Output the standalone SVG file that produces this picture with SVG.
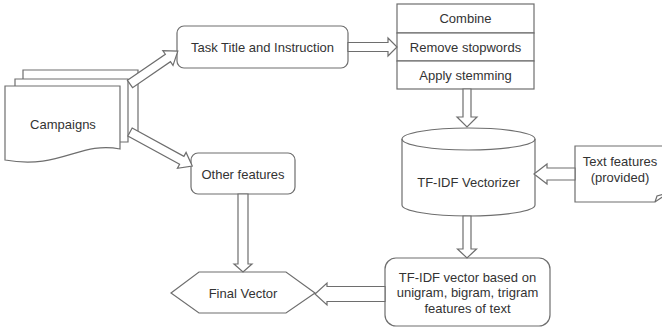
<svg xmlns="http://www.w3.org/2000/svg" width="662" height="332" viewBox="0 0 662 332">
  <style>
    .shape { fill: #ffffff; stroke: #6e6e6e; stroke-width: 1.2; }
    .line { fill: none; stroke: #6e6e6e; stroke-width: 1.2; }
    .label { font-family: "Liberation Sans", Arial, sans-serif; font-size: 13px; fill: #333333; text-anchor: middle; }
    .flex { fill: #ffffff; stroke: #6e6e6e; stroke-width: 1.2; stroke-linejoin: miter; }
  </style>
  <rect width="662" height="332" fill="#ffffff"/>

  <!-- Campaigns: stacked documents -->
  <g id="campaigns">
    <path class="shape" d="M23,79 V70 H138 V135 H128"/>
    <path class="shape" d="M15,86 V79 H128 V142 H120"/>
    <path class="shape" d="M5,86 H120 V149 C80,141 60,170 5,160 Z"/>
    <text class="label" x="63" y="128.5">Campaigns</text>
  </g>

  <!-- Task title box -->
  <g id="task-title">
    <rect class="shape" x="177" y="26" width="171" height="42" rx="7"/>
    <text class="label" x="262.5" y="51.5">Task Title and Instruction</text>
  </g>

  <!-- Text preprocessing stack -->
  <g id="preprocess">
    <rect class="shape" x="397" y="4" width="137" height="29"/>
    <rect class="shape" x="397" y="33" width="137" height="28"/>
    <rect class="shape" x="397" y="61" width="137" height="28"/>
    <text class="label" x="465.5" y="23">Combine</text>
    <text class="label" x="465.5" y="51.5">Remove stopwords</text>
    <text class="label" x="465.5" y="80">Apply stemming</text>
  </g>

  <!-- TF-IDF vectorizer cylinder -->
  <g id="vectorizer">
    <path class="shape" d="M402,139 A66.5,11 0 0 1 535,139 V205 A66.5,11 0 0 1 402,205 Z"/>
    <path class="line" d="M402,139 A66.5,11 0 0 0 535,139"/>
    <text class="label" x="468.5" y="186.5">TF-IDF Vectorizer</text>
  </g>

  <!-- Provided text features card -->
  <g id="text-features">
    <path class="shape" d="M575,146 H668 V193 L655,202 H575 Z"/>
    <path class="line" d="M655,202 L657,196 L664,194"/>
    <text class="label" x="620" y="165.5">Text features</text>
    <text class="label" x="620" y="181.5">(provided)</text>
  </g>

  <!-- Other features box -->
  <g id="other-features">
    <rect class="shape" x="191" y="153" width="104" height="41" rx="7"/>
    <text class="label" x="243" y="178.5">Other features</text>
  </g>

  <!-- Final vector hexagon -->
  <g id="final-vector">
    <polygon class="shape" points="171,293 199,272 286,272 315,293 286,313 199,313"/>
    <text class="label" x="243" y="297.5">Final Vector</text>
  </g>

  <!-- TF-IDF vector result box -->
  <g id="tfidf-vector">
    <rect class="shape" x="385" y="258" width="165" height="68" rx="11"/>
    <text class="label" x="467.5" y="281.5">TF-IDF vector based on</text>
    <text class="label" x="467.5" y="297">unigram, bigram, trigram</text>
    <text class="label" x="467.5" y="312.5">features of text</text>
  </g>

  <!-- Connectors (block arrows) -->
  <g id="connectors">
    <polygon class="flex" transform="translate(130,84) rotate(-34.5)" points="0,-4.5 46,-4.5 46,-9 58,0 46,9 46,4.5 0,4.5"/>
    <polygon class="flex" transform="translate(130,132) rotate(28.7)" points="0,-4.5 59,-4.5 59,-9 71,0 59,9 59,4.5 0,4.5"/>
    <polygon class="flex" transform="translate(348,47)" points="0,-4.5 40,-4.5 40,-9 49,0 40,9 40,4.5 0,4.5"/>
    <polygon class="flex" transform="translate(467,89) rotate(90)" points="0,-4 28,-4 28,-10 38,0 28,10 28,4 0,4"/>
    <polygon class="flex" transform="translate(575,174) rotate(180)" points="0,-6 28,-6 28,-10 41,0 28,10 28,6 0,6"/>
    <polygon class="flex" transform="translate(467,216) rotate(90)" points="0,-4 33,-4 33,-9.5 42,0 33,9.5 33,4 0,4"/>
    <polygon class="flex" transform="translate(243,194) rotate(90)" points="0,-5 70,-5 70,-9 78,0 70,9 70,5 0,5"/>
    <polygon class="flex" transform="translate(385,294) rotate(180)" points="0,-7.5 58,-7.5 58,-11 70,0 58,11 58,7.5 0,7.5"/>
  </g>
</svg>
